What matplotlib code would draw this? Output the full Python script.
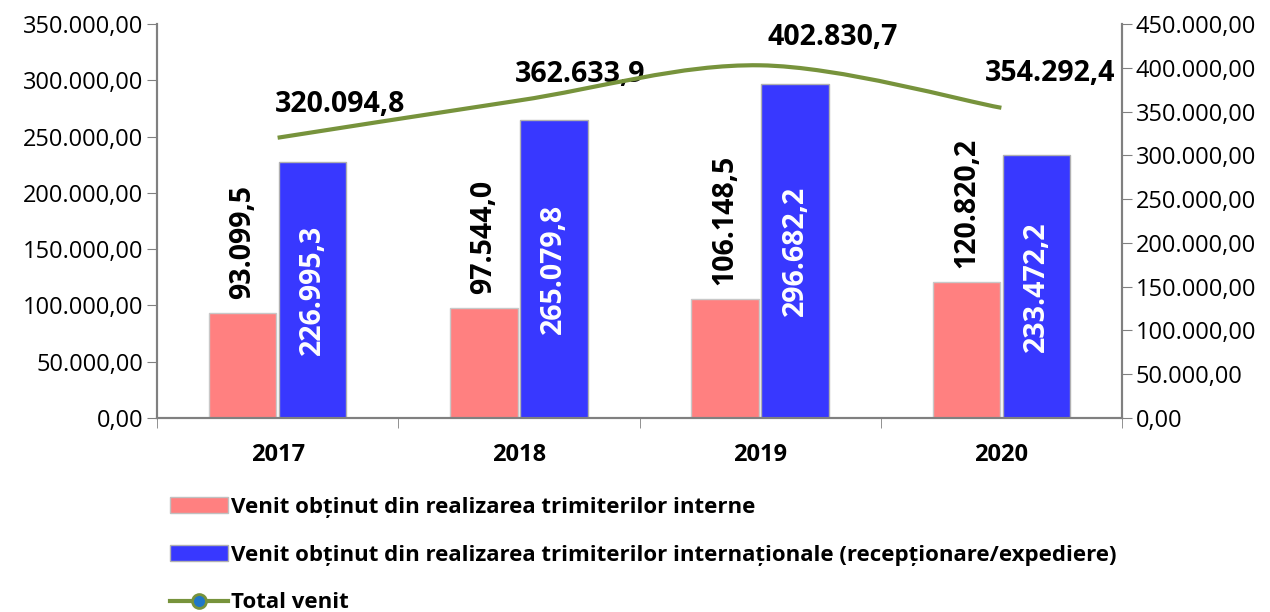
import matplotlib.pyplot as plt
import numpy as np
from matplotlib.path import Path
from matplotlib.patches import PathPatch
from matplotlib.lines import Line2D
from matplotlib.patches import Patch

years = ['2017', '2018', '2019', '2020']
interne = [93099.5, 97544.0, 106148.5, 120820.2]
internationale = [226995.3, 265079.8, 296682.2, 233472.2]
total = [320094.8, 362633.9, 402830.7, 354292.4]

lbl_interne = 'Venit obținut din realizarea trimiterilor interne'
lbl_intl = 'Venit obținut din realizarea trimiterilor internaționale (recepționare/expediere)'
lbl_total = 'Total venit'


def fmt(v, dec=1):
    s = f'{v:,.{dec}f}'
    return s.replace(',', 'X').replace('.', ',').replace('X', '.')


plt.rcParams['font.family'] = ['Open Sans', 'DejaVu Sans']

fig = plt.figure(figsize=(12.7, 6.12), dpi=100)
ax = fig.add_axes([157 / 1270, 1 - 418 / 612, (1122 - 157) / 1270, (418 - 24) / 612])
ax2 = ax.twinx()

red = '#FF8080'
blue = '#3838FF'
green = '#77933C'
gray = '#808080'

x = np.arange(len(years))
w = 0.28
ax.bar(x - 0.145, interne, w, color=red, edgecolor='#C8C8C8', linewidth=1, zorder=2)
ax.bar(x + 0.145, internationale, w, color=blue, edgecolor='#B0B0B0', linewidth=1, zorder=2)

for xi, v in zip(x, interne):
    ax.annotate(fmt(v), (xi - 0.145, v), xytext=(0, 10), textcoords='offset points',
                rotation=90, ha='center', va='bottom', fontsize=20.5, fontweight='bold', color='black')
for xi, v in zip(x, internationale):
    ax.text(xi + 0.145, v / 2, fmt(v), rotation=90, ha='center', va='center',
            fontsize=20.5, fontweight='bold', color='white', zorder=3)

ax.set_xlim(-0.5, 3.5)
ax.set_ylim(0, 350000)
ax2.set_ylim(0, 450000)
ax.set_yticks(np.arange(0, 350001, 50000))
ax2.set_yticks(np.arange(0, 450001, 50000))
ax.set_yticklabels([fmt(v, 2) for v in ax.get_yticks()], fontsize=17)
ax2.set_yticklabels([fmt(v, 2) for v in ax2.get_yticks()], fontsize=17)
ax.set_xticks(x)
ax.set_xticklabels(years, fontsize=17, fontweight='bold')
ax.set_xticks(np.arange(-0.5, 3.6, 1), minor=True)
ax.tick_params(axis='x', which='major', length=0, pad=18)
ax.tick_params(axis='x', which='minor', length=7, color=gray)
ax.tick_params(axis='y', length=7, color=gray, pad=3)
ax2.tick_params(axis='y', length=7, color=gray, pad=3)

for a in (ax, ax2):
    a.spines['top'].set_visible(False)
    for s in ('left', 'right', 'bottom'):
        a.spines[s].set_color(gray)
        a.spines[s].set_linewidth(1.5)

# smoothed total line (Catmull-Rom as cubic Bezier)
px = list(x.astype(float))
py = list(total)
verts = [(px[0], py[0])]
codes = [Path.MOVETO]
n = len(px)
for i in range(n - 1):
    p0 = (px[max(i - 1, 0)], py[max(i - 1, 0)])
    p1 = (px[i], py[i])
    p2 = (px[i + 1], py[i + 1])
    p3 = (px[min(i + 2, n - 1)], py[min(i + 2, n - 1)])
    c1 = (p1[0] + (p2[0] - p0[0]) / 6, p1[1] + (p2[1] - p0[1]) / 6)
    c2 = (p2[0] - (p3[0] - p1[0]) / 6, p2[1] - (p3[1] - p1[1]) / 6)
    verts += [c1, c2, p2]
    codes += [Path.CURVE4] * 3
ax2.add_patch(PathPatch(Path(verts, codes), facecolor='none', edgecolor=green, linewidth=3, zorder=4))

# label offsets (points) as placed in the original
label_off = [(45, 24), (44, 19), (52, 20), (35, 25)]
for xi, v, off in zip(x, total, label_off):
    ax2.annotate(fmt(v), (xi, v), xytext=off, textcoords='offset points',
                 ha='center', va='center', fontsize=20.5, fontweight='bold', color='black')

handles = [
    Patch(facecolor=red, edgecolor='#C0C0C0'),
    Patch(facecolor=blue, edgecolor='#B0B0B0'),
    Line2D([0], [0], color=green, linewidth=3, marker='o', markersize=10,
           markerfacecolor='#1F77C8', markeredgecolor=green, markeredgewidth=2),
]
fig.legend(handles, [lbl_interne, lbl_intl, lbl_total], loc='upper left',
           bbox_to_anchor=(170 / 1270, 1 - 497 / 612), frameon=False,
           prop={'size': 16, 'weight': 'bold'}, handlelength=2.6, handletextpad=0.15,
           labelspacing=1.2, borderpad=0, borderaxespad=0)

fig.savefig('out.png', dpi=100)
